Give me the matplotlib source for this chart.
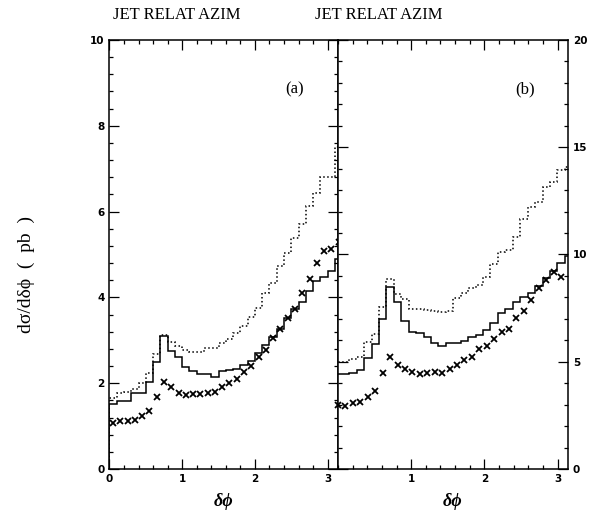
#!/usr/bin/env python3
# -*- coding: utf-8 -*-
"""
Jet relative azimuth distributions, panels (a) and (b)
"""

import numpy as np
import matplotlib
matplotlib.use("Agg")
import matplotlib.pyplot as plt
from matplotlib.ticker import MultipleLocator

# bin edges (delta phi); panel (b) is drawn half a bin to the left in the original
edges_a = np.arange(33) * 0.1
edges_b = np.linspace(-0.05, 3.2, 33)
pts_a = 0.5 * (edges_a[:-1] + edges_a[1:])
pts_b = 0.5 * (edges_b[:-1] + edges_b[1:])[:31]

# panel (a), pb
solid_a = [1.52, 1.58, 1.58, 1.78, 1.78, 2.02, 2.49, 3.11, 2.75, 2.60,
           2.38, 2.28, 2.21, 2.21, 2.14, 2.28, 2.30, 2.34, 2.42, 2.52,
           2.70, 2.89, 3.07, 3.27, 3.51, 3.72, 3.90, 4.15, 4.39, 4.48,
           4.62, 4.90]
dotted_a = [1.65, 1.76, 1.80, 1.86, 2.00, 2.23, 2.68, 3.12, 2.97, 2.87,
            2.77, 2.73, 2.73, 2.81, 2.81, 2.94, 3.02, 3.16, 3.33, 3.54,
            3.75, 4.10, 4.34, 4.74, 5.03, 5.38, 5.71, 6.13, 6.44, 6.81,
            6.81, 7.51]
cross_a = [1.07, 1.12, 1.12, 1.14, 1.24, 1.36, 1.67, 2.03, 1.90, 1.78,
           1.72, 1.75, 1.75, 1.76, 1.80, 1.90, 2.00, 2.09, 2.25, 2.39,
           2.60, 2.77, 3.05, 3.26, 3.51, 3.73, 4.11, 4.42, 4.79, 5.07,
           5.13, 5.28]

# panel (b), pb
solid_b = [4.43, 4.43, 4.49, 4.62, 5.16, 5.81, 6.99, 8.50, 7.77, 6.91,
           6.40, 6.32, 6.14, 5.89, 5.73, 5.86, 5.89, 5.98, 6.14, 6.25,
           6.48, 6.79, 7.26, 7.45, 7.80, 8.03, 8.22, 8.53, 8.89, 9.25,
           9.59, 9.93]
dotted_b = [5.00, 5.00, 5.11, 5.21, 5.93, 6.29, 7.54, 8.85, 8.18, 7.94,
            7.45, 7.45, 7.42, 7.36, 7.33, 7.36, 7.98, 8.22, 8.42, 8.58,
            8.97, 9.56, 10.13, 10.21, 10.83, 11.65, 12.23, 12.46, 13.15, 13.40,
            13.95, 14.10]
cross_b = [2.96, 2.92, 3.06, 3.14, 3.35, 3.65, 4.46, 5.20, 4.87, 4.68,
           4.54, 4.41, 4.46, 4.54, 4.46, 4.68, 4.83, 5.06, 5.21, 5.58,
           5.73, 6.05, 6.38, 6.51, 7.02, 7.35, 7.90, 8.42, 8.81, 9.20,
           8.94]

SERIF = ['Liberation Serif', 'DejaVu Serif']


def style_axes(ax, ymax, ymajor, yminor):
    ax.set_xlim(0, np.pi)
    ax.set_ylim(0, ymax)
    ax.xaxis.set_major_locator(MultipleLocator(1))
    ax.xaxis.set_minor_locator(MultipleLocator(0.2))
    ax.yaxis.set_major_locator(MultipleLocator(ymajor))
    ax.yaxis.set_minor_locator(MultipleLocator(yminor))
    ax.tick_params(which='both', direction='in', top=True, right=True,
                   width=0.9, labelsize=7.5)
    ax.tick_params(which='major', length=7)
    ax.tick_params(which='minor', length=3)
    for sp in ax.spines.values():
        sp.set_linewidth(1.1)


def draw_panel(ax, edges, solid, dotted, pts, cross):
    ax.stairs(dotted, edges, color='black', linestyle=(0, (1, 1.6)), linewidth=1.1)
    ax.stairs(solid, edges, color='black', linestyle='-', linewidth=1.1)
    ax.plot(pts, cross, linestyle='none', marker='x', color='black',
            markersize=5, markeredgewidth=1.3, clip_on=False)


fig = plt.figure(figsize=(5.94, 5.12), dpi=100)
ax1 = fig.add_axes([0.1843, 0.084, 0.3847, 0.8379])
ax2 = fig.add_axes([0.5690, 0.084, 0.3872, 0.8379])

draw_panel(ax1, edges_a, solid_a, dotted_a, pts_a, cross_a)
draw_panel(ax2, edges_b, solid_b, dotted_b, pts_b, cross_b)

style_axes(ax1, 10, 2, 0.4)
style_axes(ax2, 20, 5, 1)
ax1.set_xticks([0, 1, 2, 3])
ax2.set_xticks([1, 2, 3])
ax2.yaxis.tick_right()
ax2.tick_params(which='both', left=True, labelleft=False, labelright=True)
for ax in (ax1, ax2):
    for lab in ax.get_xticklabels() + ax.get_yticklabels():
        lab.set_fontweight('bold')

ax1.text(2.55, 8.85, '(a)', fontsize=12, family=SERIF, ha='center', va='center')
ax2.text(2.55, 17.7, '(b)', fontsize=12, family=SERIF, ha='center', va='center')

fig.text(0.298, 0.970, 'JET RELAT AZIM', fontsize=12, family=SERIF,
         ha='center', va='center')
fig.text(0.638, 0.970, 'JET RELAT AZIM', fontsize=12, family=SERIF,
         ha='center', va='center')

fig.text(0.045, 0.463, 'dσ/dδϕ  (  pb  )', fontsize=14,
         family=SERIF, rotation=90, ha='center', va='center')
fig.text(0.376, 0.021, 'δϕ', fontsize=13, family=SERIF, style='italic',
         weight='bold', ha='center', va='center')
fig.text(0.762, 0.021, 'δϕ', fontsize=13, family=SERIF, style='italic',
         weight='bold', ha='center', va='center')

plt.savefig('out.png', dpi=100)
plt.close()
